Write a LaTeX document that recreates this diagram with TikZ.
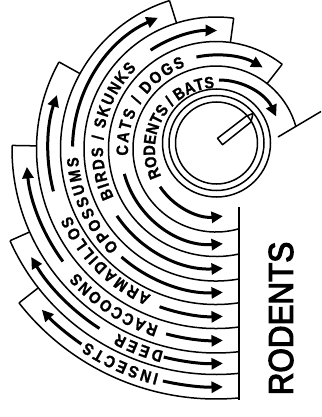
\documentclass[tikz,border=0pt]{standalone}
\usepackage{fontspec}
\setmainfont{Liberation Sans}
\newfontfamily\lblfont{Liberation Sans}[FakeStretch=0.88,FakeBold=1.2]
\newfontfamily\bigfont{Liberation Sans}[FakeBold=3.5]
\newcommand\lblfmt{\lblfont\bfseries\fontsize{16.5}{16.5}\selectfont}
\usetikzlibrary{arrows.meta,decorations.text}
\tikzset{
  bnd/.style={line width=1.5pt},
  arr/.style={line width=3pt,-{Triangle[length=11.5pt,width=11pt]}},
  lbl/.style={font=\lblfmt,decorate,decoration={text along path,text align={fit to path},
     text={|\lblfmt|#1}}}}
\begin{document}
\begin{tikzpicture}[x=1pt,y=-1pt]
\useasboundingbox (0,0) rectangle (321,417);
\coordinate (B) at (216,149);
\coordinate (D) at (216.5,143);
% band boundaries
\foreach \r/\e in {83/344.2,107.5/308,132/277.7,155.5/252.6,179.5/209,204/181,225.5/156,250/142}{
  \pgfmathsetmacro\s{acos(23/\r)}
  \draw[bnd] ([shift={(\s:\r)}]B) arc[start angle=\s,end angle=\e,radius=\r];
}
% end caps
\foreach \a/\b/\t in {83/107.5/308,107.5/132/277.7,132/155.5/252.6,155.5/179.5/209,179.5/204/181,204/225.5/156,225.5/250/142}{
  \draw[bnd] ([shift={(\t:\a)}]B) -- ([shift={(\t:\b)}]B);
}
\coordinate (vt) at (239,207);
\coordinate (vb) at (239,399.5);
\draw[bnd] (vt) -- (vb);
\coordinate (l1) at (278,137);
\coordinate (l2) at (321,111.5);
\draw[bnd] (l1) -- (l2);
% dial
\draw[bnd] (D) circle[radius=41];
\draw[bnd] (D) circle[radius=47.5];
\draw[bnd] (D) circle[radius=54];
\draw[bnd,line join=round] (217.5,138.3) -- (246.5,116) -- (253,113.5) -- (251,122) -- (222.5,144.7) -- cycle;
% labels
\path[lbl={RODENTS / BATS}] ([shift={(153.4:61)}]B) arc[start angle=153.4,end angle=267.1,radius=61];
\path[lbl={CATS / DOGS}] ([shift={(175.8:88)}]B) arc[start angle=175.8,end angle=249.6,radius=88];
\path[lbl={BIRDS / SKUNKS}] ([shift={(154.7:113)}]B) arc[start angle=154.7,end angle=225.4,radius=113];
\path[lbl={OPOSSUMS}] ([shift={(134.7:138)}]B) arc[start angle=134.7,end angle=176.7,radius=138];
\path[lbl={ARMADILLOS}] ([shift={(113.9:160)}]B) arc[start angle=113.9,end angle=155.4,radius=160];
\path[lbl={RACCOONS}] ([shift={(108:186)}]B) arc[start angle=108,end angle=138.4,radius=186];
\path[lbl={DEER}] ([shift={(104.5:209)}]B) arc[start angle=104.5,end angle=118,radius=209];
\path[lbl={INSECTS}] ([shift={(104.25:232)}]B) arc[start angle=104.25,end angle=123.75,radius=232];
% arrows towards the bottom line
\foreach \r/\a in {67.5/146,95/164.8,119.5/146,143.5/131.2,167.5/109.7,191.5/105.1,214.5/104.1,238/102.9}{
  \pgfmathsetmacro\e{acos(7/\r)}
  \draw[arr] ([shift={(\a:\r)}]B) arc[start angle=\a,end angle=\e,radius=\r];
}
% arrows towards the band ends
\draw[arr] ([shift={(270:63)}]219,143) arc[start angle=270,end angle=335,radius=63];
\foreach \r/\a/\e in {94/258/299.8,118.5/236.5/270.5,143.5/181/246.1,168/165.4/198.7,190/143.7/174.6,214/123/149.7,237/124.6/137.3}{
  \draw[arr] ([shift={(\a:\r)}]B) arc[start angle=\a,end angle=\e,radius=\r];
}
\node[rotate=90,inner sep=0pt,font=\bigfont\fontsize{34.5}{34.5}\selectfont] (rod) at (281,318.5) {\scalebox{0.91}[1]{RODENTS}};
\end{tikzpicture}
\end{document}
